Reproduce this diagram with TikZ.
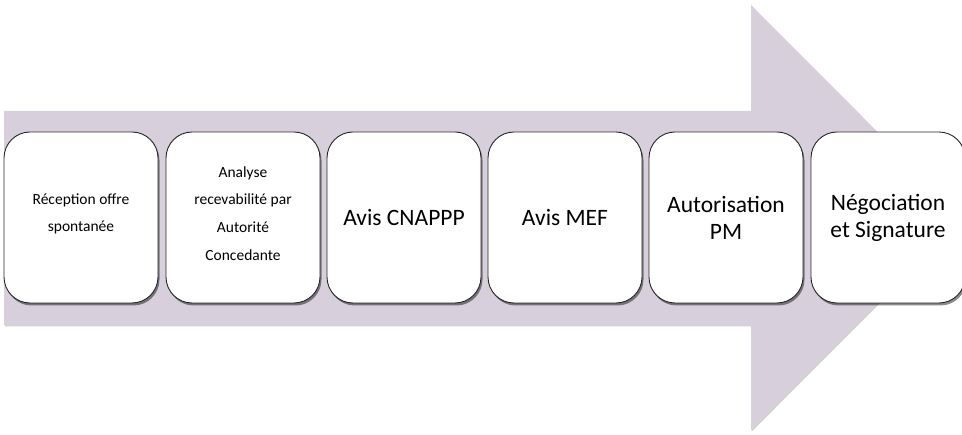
\documentclass[tikz,border=0pt]{standalone}
\usepackage{fontspec}
\setmainfont{Carlito}
\usetikzlibrary{shadows}
\definecolor{arrowfill}{RGB}{216,207,221}
\tikzset{
  stepbox/.style={draw=black!85, line width=0.9pt, fill=white,
    rounded corners=26pt, minimum width=154pt, minimum height=171pt,
    inner sep=0pt, align=center,
    drop shadow={shadow xshift=1.5pt, shadow yshift=-2.5pt, fill=black, opacity=0.45}},
  small/.style={font=\fontsize{15.5}{27.7}\selectfont},
  big/.style={font=\fontsize{23.5}{27}\selectfont},
}
\begin{document}
\begin{tikzpicture}[x=1pt, y=-1pt]
  \clip (0,0) rectangle (962,435);
  % process arrow
  \path[fill=arrowfill,
    drop shadow={shadow xshift=0.8pt, shadow yshift=-1.5pt, fill=black, opacity=0.18}]
    (4,111) -- (751,111) -- (751,5) -- (963,217.5) -- (751,430) -- (751,325) -- (4,325) -- cycle;
  % steps
  \node[stepbox] (s1) at (81,217.5) {};
  \node[small, align=center] at ([yshift=3.5pt]s1.center) {Réception offre\\spontanée};
  \node[stepbox] (s2) at (243,217.5) {};
  \node[small, align=center] at ([yshift=4pt]s2.center)
    {Analyse\\recevabilité par\\Autorité\\Concedante};
  \node[stepbox, big] (s3) at (404,217.5) {Avis CNAPPP};
  \node[stepbox, big] (s4) at (565,217.5) {Avis MEF};
  \node[stepbox, big] (s5) at (726,217.5) {Autorisation\\PM};
  \node[stepbox, big] (s6) at (888,217.5) {Négociation\\et Signature};
\end{tikzpicture}
\end{document}
